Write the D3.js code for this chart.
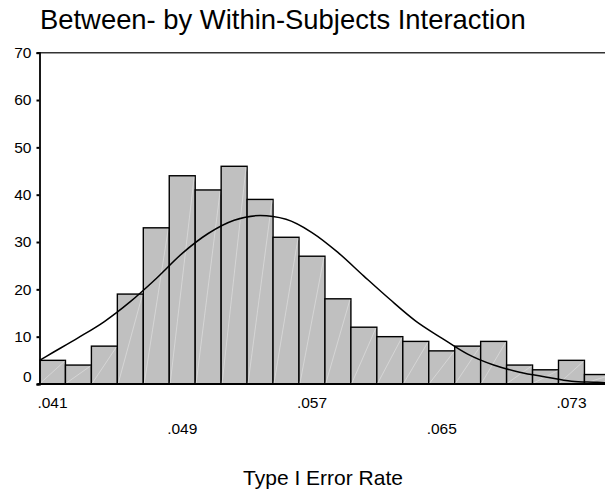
<!DOCTYPE html>
<html>
<head>
<meta charset="utf-8">
<script src="https://cdn.jsdelivr.net/npm/d3@7"></script>
<style>
  body { margin: 0; background: #fff; }
  text { font-family: "Liberation Sans", Arial, sans-serif; fill: #000; }
</style>
</head>
<body>
<div id="chart"></div>
<script>
// histogram bins (centre of each bin) and counts
var binCenters = [0.041, 0.0426, 0.0442, 0.0458, 0.0474, 0.049, 0.0506, 0.0522, 0.0538, 0.0554, 0.057,
                  0.0586, 0.0602, 0.0618, 0.0634, 0.065, 0.0666, 0.0682, 0.0698, 0.0714, 0.073, 0.0746];
var counts = [5, 4, 8, 19, 33, 44, 41, 46, 39, 31, 27, 18, 12, 10, 9, 7, 8, 9, 4, 3, 5, 2];
var binWidth = 0.0016;

// normal curve
var curveX = [0.0402, 0.041, 0.0426, 0.0442, 0.0458, 0.0474, 0.049, 0.0506, 0.0522, 0.0538, 0.0554, 0.057,
              0.0586, 0.0602, 0.0618, 0.0634, 0.065, 0.0666, 0.0682, 0.0698, 0.0714, 0.073, 0.0746, 0.0754];
var curveY = [5.0, 6.6, 9.8, 13.2, 17.4, 22.3, 27.6, 31.8, 34.6, 35.6, 34.8, 32.0,
              27.8, 22.8, 17.9, 13.3, 9.7, 6.3, 4.0, 2.5, 1.5, 0.6, 0.35, 0.2];

var xTicks = [0.041, 0.049, 0.057, 0.065, 0.073];
var xTickLabels = [".041", ".049", ".057", ".065", ".073"];
var yTicks = [0, 10, 20, 30, 40, 50, 60, 70];

var width = 605, height = 495;
var plotLeft = 39.5, plotTop = 52.7, plotBottom = 384, plotRight = 605;

var svg = d3.select("#chart").append("svg")
    .attr("width", width)
    .attr("height", height);

var x = d3.scaleLinear()
    .domain([binCenters[0] - binWidth / 2, binCenters[0] - binWidth / 2 + 22 * binWidth])
    .range([plotLeft, plotLeft + 22 * 25.95]);

var y = d3.scaleLinear()
    .domain([0, 70])
    .range([plotBottom, plotTop]);

svg.append("clipPath").attr("id", "plot")
  .append("rect")
    .attr("x", plotLeft).attr("y", 0)
    .attr("width", plotRight - plotLeft).attr("height", plotBottom + 2);

// title
svg.append("text")
    .attr("x", 40)
    .attr("y", 29)
    .attr("font-size", 27.4)
    .text("Between- by Within-Subjects Interaction");

var plot = svg.append("g").attr("clip-path", "url(#plot)");

// bars
var bars = plot.selectAll("g.bar")
    .data(counts)
    .enter().append("g")
    .attr("class", "bar");

bars.append("rect")
    .attr("x", function (d, i) { return x(binCenters[i] - binWidth / 2); })
    .attr("y", function (d) { return y(d); })
    .attr("width", function (d, i) { return x(binCenters[i] + binWidth / 2) - x(binCenters[i] - binWidth / 2); })
    .attr("height", function (d) { return plotBottom - y(d); })
    .attr("fill", "#c0c0c0")
    .attr("stroke", "#000")
    .attr("stroke-width", 1.4);

// faint diagonal in each bar
bars.append("line")
    .attr("x1", function (d, i) { return x(binCenters[i] - binWidth / 2) + 1; })
    .attr("y1", plotBottom - 1)
    .attr("x2", function (d, i) { return x(binCenters[i] + binWidth / 2) - 1; })
    .attr("y2", function (d) { return y(d) + 1; })
    .attr("stroke", "#dedede")
    .attr("stroke-width", 0.7);

// curve
var line = d3.line()
    .x(function (d, i) { return x(curveX[i]); })
    .y(function (d) { return y(d); })
    .curve(d3.curveMonotoneX);

plot.append("path")
    .datum(curveY)
    .attr("d", line)
    .attr("fill", "none")
    .attr("stroke", "#000")
    .attr("stroke-width", 1.5);

// frame lines
svg.append("line")
    .attr("x1", plotLeft - 2).attr("x2", plotRight)
    .attr("y1", plotTop).attr("y2", plotTop)
    .attr("stroke", "#333").attr("stroke-width", 1.5);

svg.append("line")
    .attr("x1", plotLeft - 2).attr("x2", plotRight)
    .attr("y1", plotBottom).attr("y2", plotBottom)
    .attr("stroke", "#000").attr("stroke-width", 2);

// y axis
var yAxis = svg.append("g")
    .attr("transform", "translate(" + plotLeft + ",0)")
    .call(d3.axisLeft(y).tickValues(yTicks).tickSize(3).tickPadding(5).tickFormat(d3.format("d")));

yAxis.select(".domain").attr("stroke", "#000").attr("stroke-width", 1.8);
yAxis.selectAll(".tick line").attr("stroke-width", 2);
yAxis.selectAll(".tick text")
    .attr("font-size", 15.5)
    .attr("font-family", "Liberation Sans, Arial, sans-serif")
    .attr("dy", function (d) { return d === 0 ? "-0.15em" : "0.32em"; });

// x tick labels, staggered in two rows
svg.append("g").selectAll("text")
    .data(xTicks)
    .enter().append("text")
    .attr("x", function (d) { return x(d); })
    .attr("y", function (d, i) { return i % 2 === 0 ? 408 : 433.5; })
    .attr("text-anchor", "middle")
    .attr("font-size", 15.5)
    .text(function (d, i) { return xTickLabels[i]; });

// axis title
svg.append("text")
    .attr("x", 323)
    .attr("y", 485)
    .attr("text-anchor", "middle")
    .attr("font-size", 21)
    .text("Type I Error Rate");
</script>
</body>
</html>
